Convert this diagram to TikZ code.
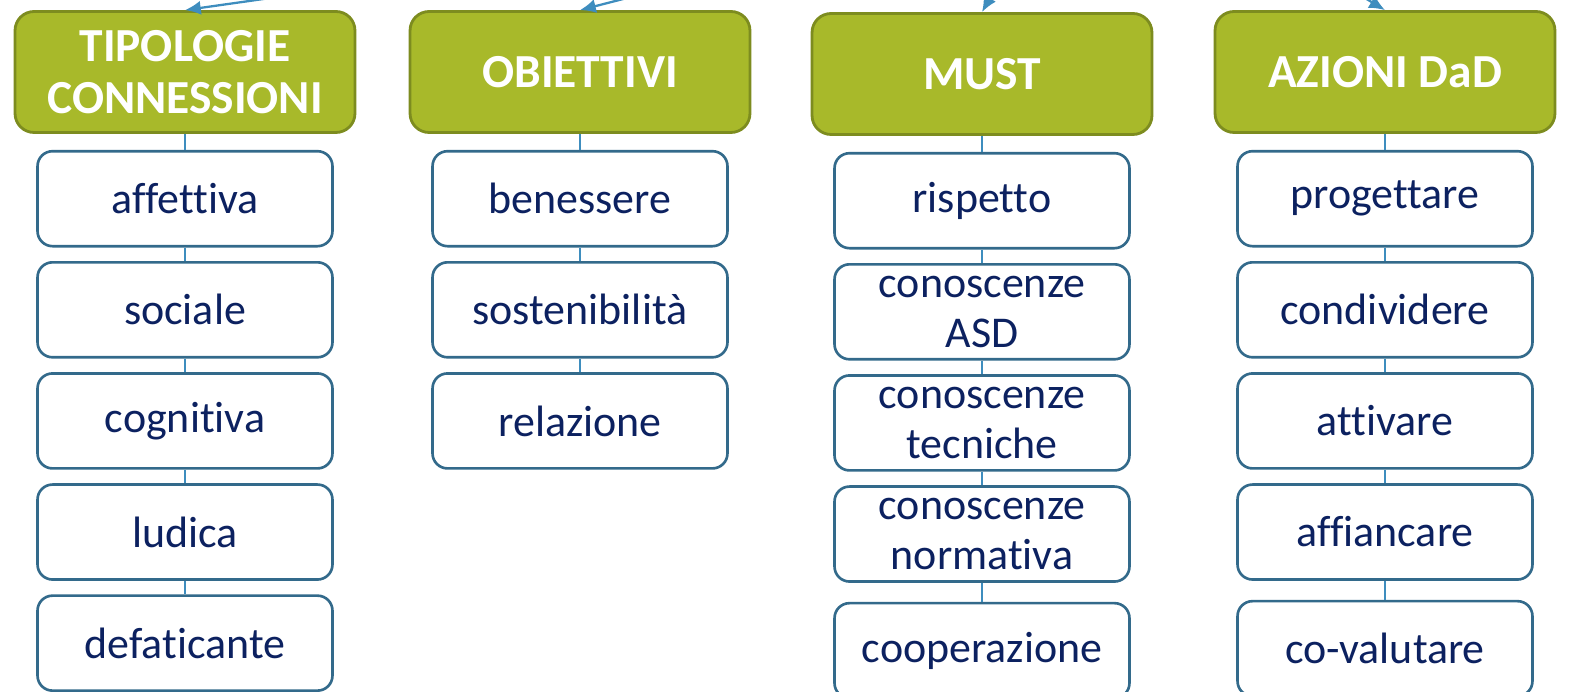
\documentclass[tikz,border=0pt]{standalone}
\usepackage{fontspec}
\setmainfont{Carlito}[Ligatures={NoCommon}]
\usetikzlibrary{shapes,arrows.meta,positioning}

\definecolor{olivefill}{HTML}{A8B92A}
\definecolor{olivedraw}{HTML}{7D8C1F}
\definecolor{boxdraw}{HTML}{336A8B}
\definecolor{navytext}{HTML}{0C2160}
\definecolor{linkblue}{HTML}{3E8DBE}

\begin{document}
\begin{tikzpicture}[
        x=0.02cm, y=-0.02cm,
        node distance=0.27cm,
        >={Latex[length=9pt,width=8pt]},
        head/.style={draw=olivedraw, fill=olivefill, line width=1.6pt, rounded corners=0.38cm,
            minimum width=6.8cm, minimum height=2.42cm, text=white, align=center,
            font=\fontsize{27}{30}\selectfont\bfseries},
        item/.style={draw=boxdraw, fill=white, line width=1.5pt, rounded corners=0.3cm,
            minimum width=5.9cm, minimum height=1.9cm, inner sep=0pt, text=navytext, align=center,
            font=\fontsize{25}{28.5}\selectfont},
        link/.style={draw=linkblue, line width=0.8pt},
        feed/.style={->, draw=linkblue, line width=1.3pt}
    ]
        \clip (0,0) rectangle (1570,692);

        % Headers
        \node (tip) [head] at (185,72) {TIPOLOGIE\\CONNESSIONI};
        \node (obi) [head] at (580,72) {OBIETTIVI};
        \node (must) [head] at (982,74) {MUST};
        \node (azi) [head] at (1385,72) {AZIONI DaD};

        % Tipologie connessioni
        \node (aff) [item, below=0.32cm of tip] {affettiva};
        \node (soc) [item, below=of aff] {sociale};
        \node (cog) [item, below=of soc] {cognitiva};
        \node (lud) [item, below=of cog] {ludica};
        \node (def) [item, below=of lud] {defaticante};

        % Obiettivi
        \node (ben) [item, below=0.32cm of obi] {benessere};
        \node (sos) [item, below=of ben] {sostenibilità};
        \node (rel) [item, below=of sos] {relazione};

        % Must
        \node (ris) [item, below=0.32cm of must] {rispetto};
        \node (asd) [item, below=of ris] {conoscenze\\ASD};
        \node (tec) [item, below=of asd] {conoscenze\\tecniche};
        \node (nor) [item, below=of tec] {conoscenze\\normativa};
        \node (coo) [item, below=0.38cm of nor] {cooperazione};

        % Azioni DaD
        \node (pro) [item, below=0.32cm of azi] {progettare};
        \node (con) [item, below=of pro] {condividere};
        \node (att) [item, below=of con] {attivare};
        \node (afc) [item, below=of att] {affiancare};
        \node (cov) [item, below=0.38cm of afc] {co-valutare};

        % Connections
        \draw[link] (tip) -- (aff) (aff) -- (soc) (soc) -- (cog) (cog) -- (lud) (lud) -- (def);
        \draw[link] (obi) -- (ben) (ben) -- (sos) (sos) -- (rel);
        \draw[link] (must) -- (ris) (ris) -- (asd) (asd) -- (tec) (tec) -- (nor) (nor) -- (coo);
        \draw[link] (azi) -- (pro) (pro) -- (con) (con) -- (att) (att) -- (afc) (afc) -- (cov);

        % Incoming arrows
        \coordinate (in1) at (334,-11);
        \coordinate (in2) at (662,-11);
        \coordinate (in3) at (1000,-20);
        \coordinate (in4) at (1345,-14);
        \draw[feed] (in1) -- (tip.north);
        \draw[feed] (in2) -- (obi.north);
        \draw[feed] (in3) -- (must.north);
        \draw[feed] (in4) -- (azi.north);

    \end{tikzpicture}
\end{document}
